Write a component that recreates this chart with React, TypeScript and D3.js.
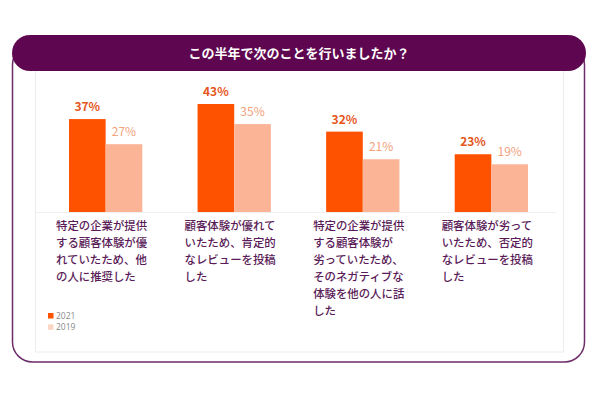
import * as d3 from "d3";
import { useEffect, useRef } from "react";

// chart data
const categories = ["recommend", "positiveReview", "toldNegative", "negativeReview"];
const categoryLines = [
    ["特定の企業が提供", "する顧客体験が優", "れていたため、他", "の人に推奨した"],
    ["顧客体験が優れて", "いたため、肯定的", "なレビューを投稿", "した"],
    ["特定の企業が提供", "する顧客体験が", "劣っていたため、", "そのネガティブな", "体験を他の人に話", "した"],
    ["顧客体験が劣って", "いたため、否定的", "なレビューを投稿", "した"],
];
const years = ["2021", "2019"];
const values2021 = [37, 43, 32, 23];
const values2019 = [27, 35, 21, 19];
const title = "この半年で次のことを行いましたか？";

const W = 600;
const H = 399;
const FONT = "'Noto Sans CJK JP', 'Noto Sans', sans-serif";

const barColor: Record<string, string> = { "2021": "#ff5200", "2019": "#fbb496" };
const labelColor: Record<string, string> = { "2021": "#e5561c", "2019": "#f3a27c" };
const legendColor: Record<string, string> = { "2021": "#ff5200", "2019": "#fcd6c5" };

function Chart() {
    const ref = useRef<SVGSVGElement>(null);

    useEffect(() => {
        const svg = d3.select(ref.current);
        svg.selectAll("*").remove();

        const baseline = 212;

        // outer frame
        svg.append("rect")
            .attr("x", 12.5).attr("y", 45)
            .attr("width", 572).attr("height", 317)
            .attr("rx", 20)
            .attr("fill", "#fff")
            .attr("stroke", "#6d2d6a")
            .attr("stroke-width", 1.5);

        // light inner panel
        svg.append("rect")
            .attr("x", 35.5).attr("y", 60)
            .attr("width", 528).attr("height", 292)
            .attr("fill", "none")
            .attr("stroke", "#ececec")
            .attr("stroke-width", 1);

        // header pill
        svg.append("rect")
            .attr("x", 12).attr("y", 35)
            .attr("width", 574).attr("height", 36)
            .attr("rx", 18)
            .attr("fill", "#5e0650");

        svg.append("text")
            .attr("x", 299).attr("y", 58)
            .attr("text-anchor", "middle")
            .attr("fill", "#fff")
            .attr("font-family", FONT)
            .attr("font-size", 13)
            .attr("font-weight", 700)
            .text(title);

        const x = d3.scaleBand<string>()
            .domain(categories)
            .range([69, 528])
            .paddingInner(0.43)
            .paddingOuter(0);

        const xs = d3.scaleBand<string>()
            .domain(years)
            .range([0, x.bandwidth()]);

        const y = d3.scaleLinear()
            .domain([0, 43])
            .range([baseline, 104]);

        // faint baseline
        svg.append("line")
            .attr("x1", 36).attr("x2", 556)
            .attr("y1", baseline + 0.5).attr("y2", baseline + 0.5)
            .attr("stroke", "#f0f0f0");

        const rows = categories.flatMap((c, i) => [
            { cat: c, year: "2021", value: values2021[i] },
            { cat: c, year: "2019", value: values2019[i] },
        ]);

        svg.append("g")
            .selectAll("rect")
            .data(rows)
            .join("rect")
            .attr("x", (d) => x(d.cat)! + xs(d.year)!)
            .attr("y", (d) => y(d.value))
            .attr("width", xs.bandwidth())
            .attr("height", (d) => baseline - y(d.value))
            .attr("fill", (d) => barColor[d.year]);

        svg.append("g")
            .selectAll("text")
            .data(rows)
            .join("text")
            .attr("x", (d) => x(d.cat)! + xs(d.year)! + xs.bandwidth() / 2)
            .attr("y", (d) => y(d.value) - 8)
            .attr("text-anchor", "middle")
            .attr("font-family", FONT)
            .attr("font-size", 12)
            .attr("font-weight", (d) => (d.year === "2021" ? 700 : 400))
            .attr("fill", (d) => labelColor[d.year])
            .text((d) => `${d.value}%`);

        // category labels
        const catG = svg.append("g")
            .attr("font-family", FONT)
            .attr("font-size", 11.4)
            .attr("font-weight", 500)
            .attr("fill", "#5a1b58");

        categories.forEach((c, i) => {
            const t = catG.append("text")
                .attr("x", x(c)! - 13)
                .attr("y", 230);
            t.selectAll("tspan")
                .data(categoryLines[i])
                .join("tspan")
                .attr("x", x(c)! - 13)
                .attr("dy", (_, j) => (j === 0 ? 0 : 16.9))
                .text((d) => d);
        });

        // legend
        const lg = svg.append("g")
            .selectAll("g")
            .data(years)
            .join("g")
            .attr("transform", (_, i) => `translate(48,${313 + i * 11.3})`);
        lg.append("rect")
            .attr("width", 5.5).attr("height", 5.5)
            .attr("fill", (d) => legendColor[d]);
        lg.append("text")
            .attr("x", 8).attr("y", 5.8)
            .attr("font-family", "'Open Sans', sans-serif")
            .attr("font-size", 8.5)
            .attr("fill", "#8a8a8a")
            .text((d) => d);
    }, []);

    return (
        <svg
            ref={ref}
            width={W}
            height={H}
            style={{ position: "absolute", left: 0, top: 0, background: "#fff" }}
        />
    );
}

export default function App() {
    return <Chart />;
}
